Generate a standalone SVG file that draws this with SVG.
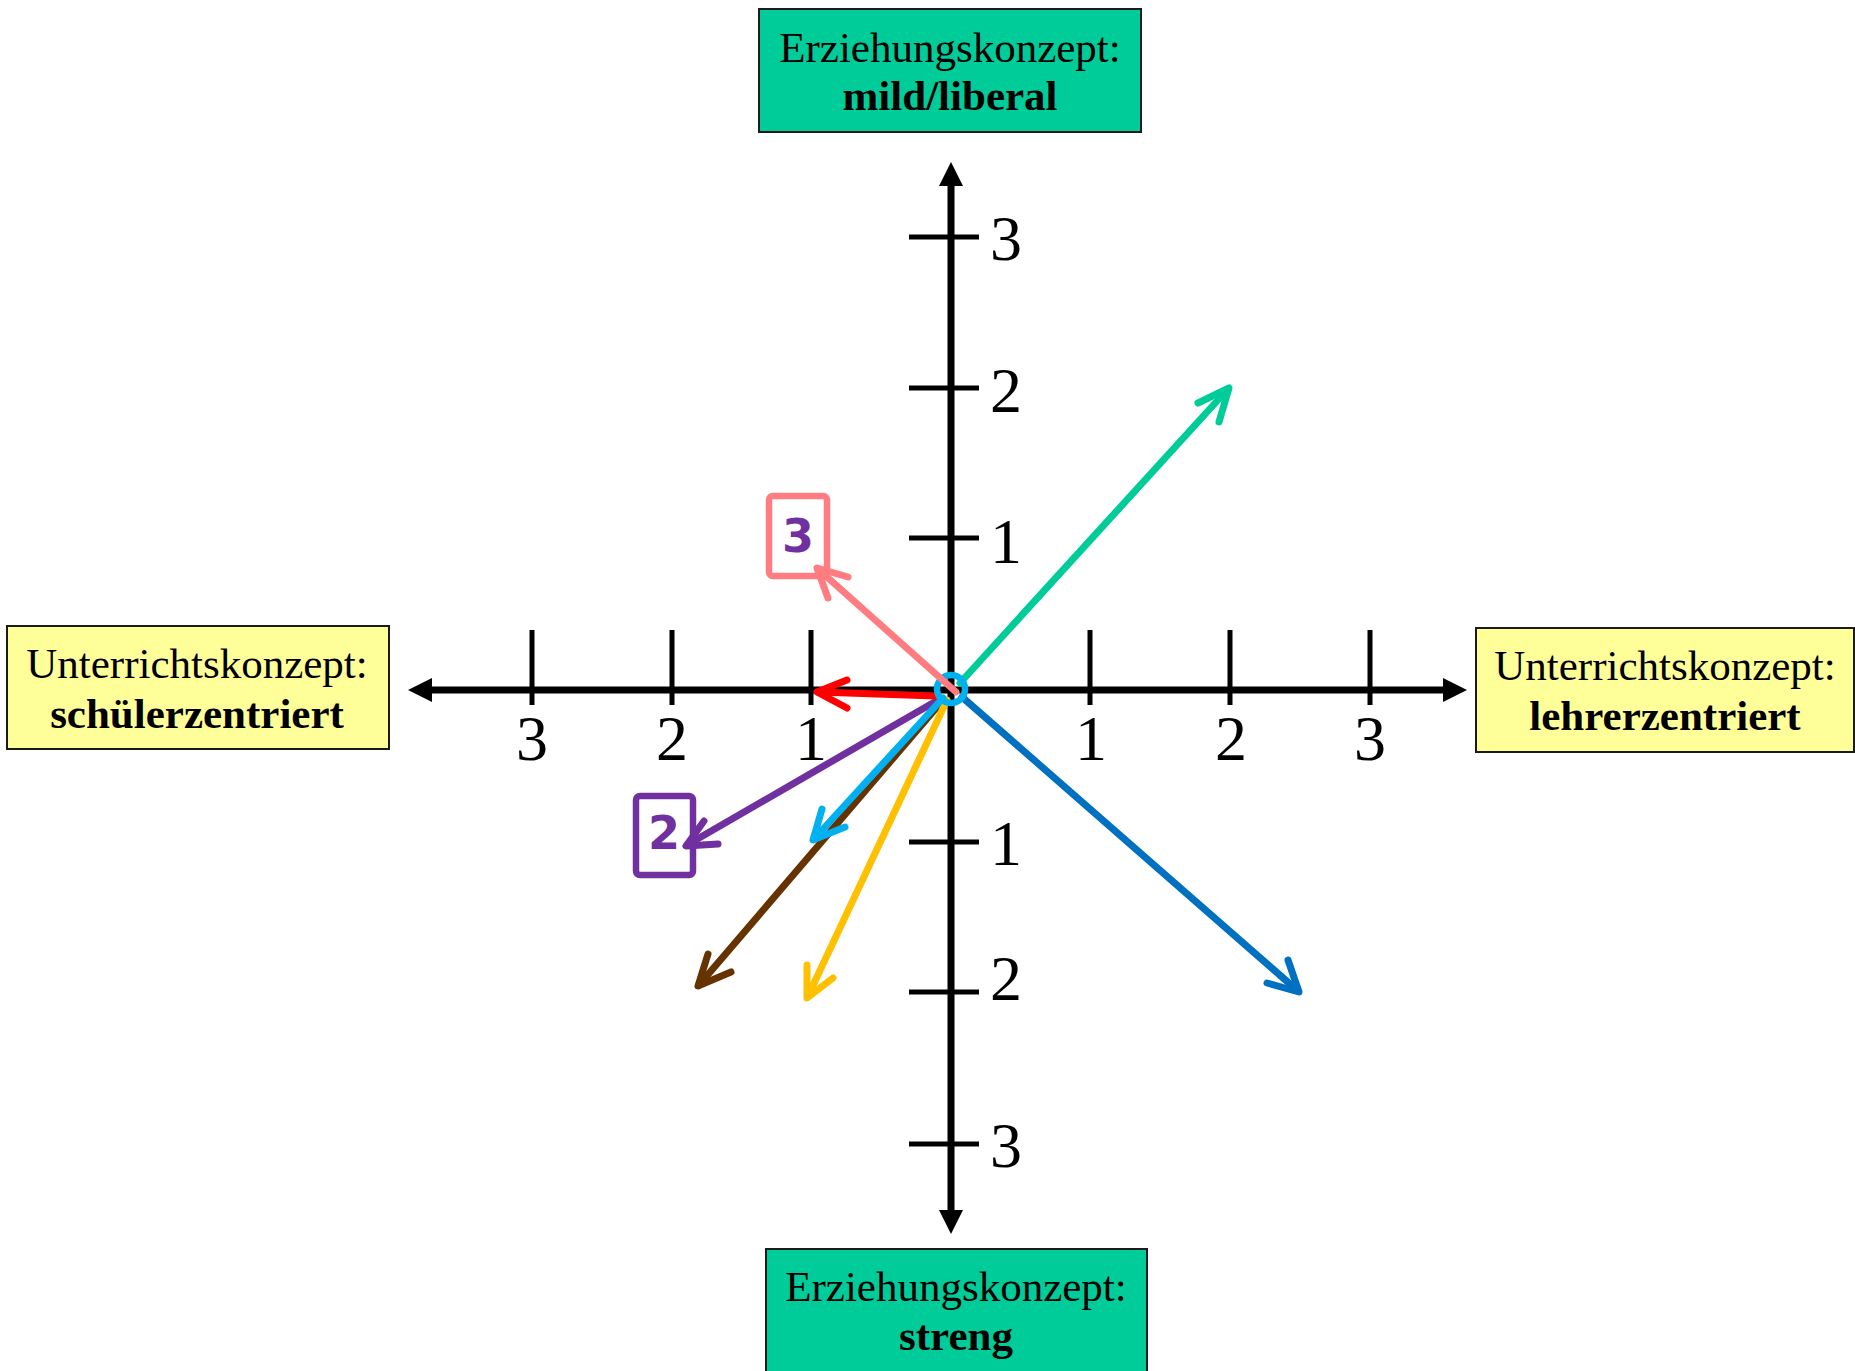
<svg xmlns="http://www.w3.org/2000/svg" width="1855" height="1371" viewBox="0 0 1855 1371">
<style>
.box-g{fill:#00CC99;stroke:#1a1a1a;stroke-width:2}
.box-y{fill:#FFFF99;stroke:#1a1a1a;stroke-width:2}
.t{font-family:"Liberation Serif","Times New Roman",serif;font-size:43px;fill:#000;text-anchor:middle}
.b{font-weight:bold}
.num{font-family:"Liberation Serif","Times New Roman",serif;font-size:64px;fill:#000;text-anchor:middle}
.axis{stroke:#000;stroke-width:7;fill:none}
.tick{stroke:#000;stroke-width:5;fill:none}
.arr{fill:none;stroke-width:7;stroke-linecap:round;stroke-linejoin:round}
.tag{fill:#fff;stroke-width:6.5;stroke-linejoin:round}
.tagtxt{font-family:"DejaVu Sans","Noto Sans",sans-serif;font-weight:bold;font-size:46px;fill:#7030A0;text-anchor:middle}
</style>
<rect width="1855" height="1371" fill="#fff"/>

<g id="axes">
<line class="axis" x1="431" y1="690" x2="1445" y2="690"/>
<polygon points="408,690 432,678 432,702" fill="#000"/>
<polygon points="1467,690 1443,678 1443,702" fill="#000"/>
<line class="axis" x1="951" y1="184" x2="951" y2="1212"/>
<polygon points="951,162 939,186 963,186" fill="#000"/>
<polygon points="951,1234 939,1210 963,1210" fill="#000"/>
<g>
<line class="tick" x1="532" y1="630" x2="532" y2="705"/>
<line class="tick" x1="672" y1="630" x2="672" y2="705"/>
<line class="tick" x1="811" y1="630" x2="811" y2="705"/>
<line class="tick" x1="1090" y1="630" x2="1090" y2="705"/>
<line class="tick" x1="1230" y1="630" x2="1230" y2="705"/>
<line class="tick" x1="1370" y1="630" x2="1370" y2="705"/>
<line class="tick" x1="909" y1="237" x2="979" y2="237"/>
<line class="tick" x1="909" y1="388" x2="979" y2="388"/>
<line class="tick" x1="909" y1="538" x2="979" y2="538"/>
<line class="tick" x1="909" y1="842" x2="979" y2="842"/>
<line class="tick" x1="909" y1="992" x2="979" y2="992"/>
<line class="tick" x1="909" y1="1144" x2="979" y2="1144"/>
</g>
<g>
<text class="num" x="532" y="760">3</text>
<text class="num" x="672" y="760">2</text>
<text class="num" x="811" y="760">1</text>
<text class="num" x="1091" y="760">1</text>
<text class="num" x="1231" y="760">2</text>
<text class="num" x="1370" y="760">3</text>
<text class="num" x="1006" y="260">3</text>
<text class="num" x="1006" y="412">2</text>
<text class="num" x="1006" y="563">1</text>
<text class="num" x="1006" y="865">1</text>
<text class="num" x="1006" y="1000">2</text>
<text class="num" x="1006" y="1167">3</text>
</g>
</g>

<g id="node-top">
<rect class="box-g" x="759" y="9" width="382" height="123"/>
<text class="t" x="950" y="62">Erziehungskonzept:</text>
<text class="t b" x="950" y="110">mild/liberal</text>
</g>
<g id="node-bottom">
<rect class="box-g" x="766" y="1249" width="381" height="130"/>
<text class="t" x="956" y="1301">Erziehungskonzept:</text>
<text class="t b" x="956" y="1350">streng</text>
</g>
<g id="node-left">
<rect class="box-y" x="7" y="626" width="382" height="123"/>
<text class="t" x="197" y="678">Unterrichtskonzept:</text>
<text class="t b" x="197" y="728">schülerzentriert</text>
</g>
<g id="node-right">
<rect class="box-y" x="1476" y="628" width="378" height="124"/>
<text class="t" x="1665" y="680">Unterrichtskonzept:</text>
<text class="t b" x="1665" y="730">lehrerzentriert</text>
</g>

<g id="tag-3">
<rect class="tag" x="769" y="496" width="58" height="80" rx="4" stroke="#FF7C80"/>
<text class="tagtxt" x="798" y="552">3</text>
</g>
<g id="tag-2">
<rect class="tag" x="636" y="796" width="57" height="79" rx="4" stroke="#7030A0"/>
<text class="tagtxt" x="664" y="849">2</text>
</g>

<g id="connectors">
<g stroke="#0070C0" class="arr"><line x1="962" y1="697" x2="1298" y2="991"/><polyline points="1267,983 1299,992 1288,960"/></g>
<g stroke="#00CC99" class="arr"><line x1="960" y1="683" x2="1228" y2="389"/><polyline points="1198,403 1229,388 1219,422"/></g>
<g stroke="#663300" class="arr"><line x1="943" y1="700" x2="699" y2="985"/><polyline points="708,954 698,986 731,972"/></g>
<g stroke="#FFC000" class="arr"><line x1="947" y1="700" x2="808" y2="996"/><polyline points="807,965 807,998 833,978"/></g>
<g stroke="#7030A0" class="arr"><line x1="938" y1="700" x2="687" y2="845"/><polyline points="704,821 686,846 718,844"/></g>
<g stroke="#00B0F0" class="arr"><line x1="943" y1="698" x2="814" y2="839"/><polyline points="822,809 813,840 845,827"/></g>
<g stroke="#FF0000" class="arr"><line x1="936" y1="696" x2="818" y2="692"/><polyline points="847,680 817,692 847,708"/></g>
<circle cx="951" cy="689" r="14" fill="none" stroke="#00B0F0" stroke-width="6.5"/>
<g stroke="#FF7C80" class="arr"><line x1="956" y1="692" x2="818" y2="569"/><polyline points="828,598 817,568 848,577"/></g>
</g>
</svg>
